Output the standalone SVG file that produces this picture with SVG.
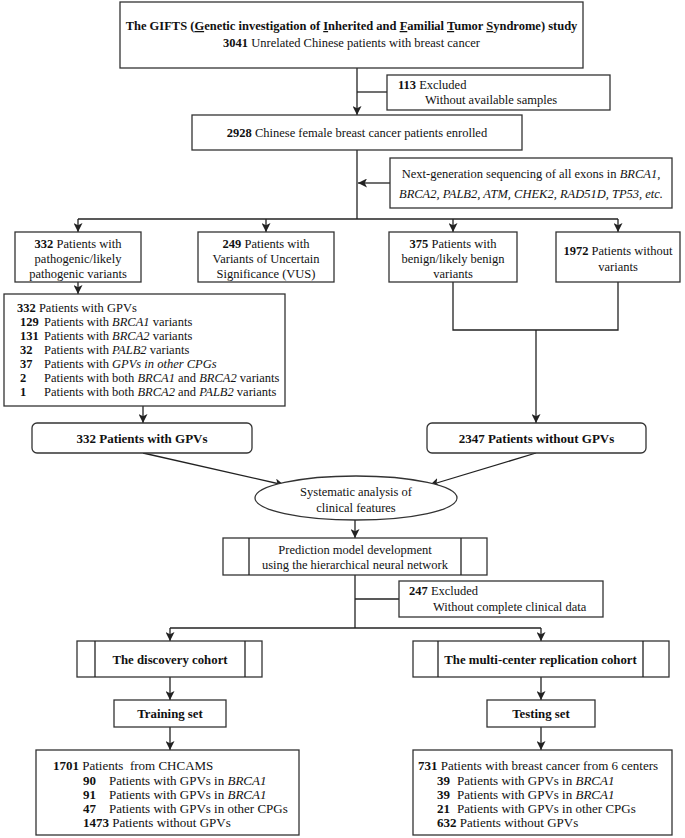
<svg xmlns="http://www.w3.org/2000/svg" width="685" height="838" viewBox="0 0 685 838">
<defs>
<style>
.box{fill:#fff;stroke:#333;stroke-width:1.3}
.ln{fill:none;stroke:#222;stroke-width:1.3}
.arr{fill:none;stroke:#222;stroke-width:1.3;marker-end:url(#ah)}
text{font-family:"Liberation Serif","Times New Roman",serif;font-size:12.5px;fill:#111}
.c{text-anchor:middle}
.b{font-weight:bold}
.i{font-style:italic}
.u{text-decoration:underline}
.big{font-size:13px;font-weight:bold}
.coh{font-size:12.8px;font-weight:bold}
.lst{font-size:13px}
</style>
<marker id="ah" viewBox="0 0 10 10" refX="10" refY="5" markerWidth="9" markerHeight="9" markerUnits="userSpaceOnUse" orient="auto">
<path d="M0,0 L10,5 L0,10 L2.5,5 z" fill="#222"/>
</marker>
</defs>
<rect width="685" height="838" fill="#fff"/>

<g id="connectors">
<line class="arr" x1="357" y1="68" x2="357" y2="115"/>
<line class="ln" x1="357" y1="92" x2="387" y2="92"/>
<line class="ln" x1="357" y1="150" x2="357" y2="219"/>
<line class="arr" x1="390" y1="183" x2="358" y2="183"/>
<line class="ln" x1="78" y1="219" x2="618" y2="219"/>
<line class="arr" x1="78" y1="219" x2="78" y2="232"/>
<line class="arr" x1="266" y1="219" x2="266" y2="232"/>
<line class="arr" x1="453" y1="219" x2="453" y2="232"/>
<line class="arr" x1="618" y1="219" x2="618" y2="232"/>
<line class="arr" x1="78" y1="282" x2="78" y2="294"/>
<polyline class="ln" points="453,282 453,330 618,330 618,282"/>
<line class="arr" x1="536" y1="330" x2="536" y2="423"/>
<line class="arr" x1="143" y1="406" x2="143" y2="423"/>
<line class="arr" x1="143" y1="453" x2="284" y2="485"/>
<line class="arr" x1="536" y1="453" x2="430" y2="485"/>
<line class="arr" x1="355" y1="520" x2="355" y2="538"/>
<line class="ln" x1="355" y1="575" x2="355" y2="628"/>
<line class="ln" x1="355" y1="599" x2="399" y2="599"/>
<line class="ln" x1="170" y1="628" x2="541" y2="628"/>
<line class="arr" x1="170" y1="628" x2="170" y2="641"/>
<line class="arr" x1="541" y1="628" x2="541" y2="641"/>
<line class="arr" x1="170" y1="677" x2="170" y2="700"/>
<line class="arr" x1="541" y1="677" x2="541" y2="700"/>
<line class="arr" x1="170" y1="727" x2="170" y2="750"/>
<line class="arr" x1="541" y1="727" x2="541" y2="750"/>
</g>

<g id="n-gifts">
<rect class="box" x="120" y="2" width="463" height="66"/>
<text class="c b" x="351.5" y="30">The GIFTS (<tspan class="u">G</tspan>enetic investigation of <tspan class="u">I</tspan>nherited and <tspan class="u">F</tspan>amilial <tspan class="u">T</tspan>umor <tspan class="u">S</tspan>yndrome) study</text>
<text class="c" x="351.5" y="47"><tspan class="b">3041</tspan> Unrelated Chinese patients with breast cancer</text>
</g>

<g id="n-excl113">
<rect class="box" x="387" y="75" width="223" height="35"/>
<text x="398" y="89"><tspan class="b">113</tspan> Excluded</text>
<text x="425" y="104">Without available samples</text>
</g>

<g id="n-2928">
<rect class="box" x="192" y="115" width="330" height="35"/>
<text class="c" x="357" y="137"><tspan class="b">2928</tspan> Chinese female breast cancer patients enrolled</text>
</g>

<g id="n-ngs">
<rect class="box" x="390" y="158" width="282" height="50"/>
<text class="c" x="531" y="178">Next-generation sequencing of all exons in <tspan class="i">BRCA1,</tspan></text>
<text class="c i" x="531" y="198">BRCA2, PALB2, ATM, CHEK2, RAD51D, TP53, etc.</text>
</g>

<g id="n-plp">
<rect class="box" x="15" y="232" width="126" height="50"/>
<text class="c" x="78" y="248"><tspan class="b">332</tspan> Patients with</text>
<text class="c" x="78" y="263">pathogenic/likely</text>
<text class="c" x="78" y="278">pathogenic variants</text>
</g>

<g id="n-vus">
<rect class="box" x="198" y="232" width="136" height="50"/>
<text class="c" x="266" y="248"><tspan class="b">249</tspan> Patients with</text>
<text class="c" x="266" y="263">Variants of Uncertain</text>
<text class="c" x="266" y="278">Significance (VUS)</text>
</g>

<g id="n-benign">
<rect class="box" x="389" y="232" width="128" height="50"/>
<text class="c" x="453" y="248"><tspan class="b">375</tspan> Patients with</text>
<text class="c" x="453" y="263">benign/likely benign</text>
<text class="c" x="453" y="278">variants</text>
</g>

<g id="n-novar">
<rect class="box" x="556" y="232" width="124" height="50"/>
<text class="c" x="618" y="255"><tspan class="b">1972</tspan> Patients without</text>
<text class="c" x="618" y="271">variants</text>
</g>

<g id="n-gpvlist">
<rect class="box" x="4" y="294" width="281" height="112"/>
<text x="17" y="312"><tspan class="b">332</tspan> Patients with GPVs</text>
<text y="326"><tspan class="b" x="20">129</tspan><tspan x="44">Patients with </tspan><tspan class="i">BRCA1</tspan> variants</text>
<text y="340"><tspan class="b" x="20">131</tspan><tspan x="44">Patients with </tspan><tspan class="i">BRCA2</tspan> variants</text>
<text y="354"><tspan class="b" x="20">32</tspan><tspan x="44">Patients with </tspan><tspan class="i">PALB2</tspan> variants</text>
<text y="368"><tspan class="b" x="20">37</tspan><tspan x="44">Patients with </tspan><tspan class="i">GPVs in other CPGs</tspan></text>
<text y="382"><tspan class="b" x="20">2</tspan><tspan x="44">Patients with both </tspan><tspan class="i">BRCA1</tspan> and <tspan class="i">BRCA2</tspan> variants</text>
<text y="396"><tspan class="b" x="20">1</tspan><tspan x="44">Patients with both </tspan><tspan class="i">BRCA2</tspan> and <tspan class="i">PALB2</tspan> variants</text>
</g>

<g id="n-gpv">
<rect class="box" x="32" y="423" width="220" height="30" rx="5"/>
<text class="c big" x="142" y="443">332 Patients with GPVs</text>
</g>

<g id="n-nogpv">
<rect class="box" x="427" y="423" width="219" height="30" rx="5"/>
<text class="c big" x="536.5" y="443">2347 Patients without GPVs</text>
</g>

<g id="n-analysis">
<ellipse class="box" cx="356" cy="498" rx="101" ry="22"/>
<text class="c" x="356" y="496">Systematic analysis of</text>
<text class="c" x="356" y="512">clinical features</text>
</g>

<g id="n-model">
<rect class="box" x="223" y="538" width="264" height="37"/>
<line class="ln" x1="249" y1="538" x2="249" y2="575"/>
<line class="ln" x1="461" y1="538" x2="461" y2="575"/>
<text class="c" x="355" y="554">Prediction model development</text>
<text class="c" x="355" y="569">using the hierarchical neural network</text>
</g>

<g id="n-excl247">
<rect class="box" x="399" y="581" width="204" height="36"/>
<text x="409" y="595"><tspan class="b">247</tspan> Excluded</text>
<text x="433" y="611">Without complete clinical data</text>
</g>

<g id="n-discovery">
<rect class="box" x="77" y="641" width="185" height="36"/>
<line class="ln" x1="95" y1="641" x2="95" y2="677"/>
<line class="ln" x1="245" y1="641" x2="245" y2="677"/>
<text class="c coh" x="170" y="664">The discovery cohort</text>
</g>

<g id="n-replication">
<rect class="box" x="413" y="641" width="256" height="36"/>
<line class="ln" x1="438" y1="641" x2="438" y2="677"/>
<line class="ln" x1="643" y1="641" x2="643" y2="677"/>
<text class="c coh" x="540.5" y="664">The multi-center replication cohort</text>
</g>

<g id="n-training">
<rect class="box" x="114" y="700" width="112" height="27"/>
<text class="c coh" x="170" y="718">Training set</text>
</g>

<g id="n-testing">
<rect class="box" x="487" y="700" width="108" height="27"/>
<text class="c coh" x="541" y="718">Testing set</text>
</g>

<g id="n-trainlist">
<rect class="box" x="36" y="750" width="263" height="85"/>
<text class="lst" x="53" y="770"><tspan class="b">1701</tspan> Patients&#160; from CHCAMS</text>
<text class="lst" y="785"><tspan class="b" x="83">90</tspan><tspan x="109">Patients with GPVs in </tspan><tspan class="i">BRCA1</tspan></text>
<text class="lst" y="799"><tspan class="b" x="83">91</tspan><tspan x="109">Patients with GPVs in </tspan><tspan class="i">BRCA1</tspan></text>
<text class="lst" y="813"><tspan class="b" x="83">47</tspan><tspan x="109">Patients with GPVs in other CPGs</tspan></text>
<text class="lst" x="83" y="827"><tspan class="b">1473</tspan> Patients without GPVs</text>
</g>

<g id="n-testlist">
<rect class="box" x="413" y="750" width="259" height="85"/>
<text class="lst" x="418" y="770"><tspan class="b">731</tspan> Patients with breast cancer from 6 centers</text>
<text class="lst" y="785"><tspan class="b" x="437">39</tspan><tspan x="457">Patients with GPVs in </tspan><tspan class="i">BRCA1</tspan></text>
<text class="lst" y="799"><tspan class="b" x="437">39</tspan><tspan x="457">Patients with GPVs in </tspan><tspan class="i">BRCA1</tspan></text>
<text class="lst" y="813"><tspan class="b" x="437">21</tspan><tspan x="457">Patients with GPVs in other CPGs</tspan></text>
<text class="lst" x="437" y="827"><tspan class="b">632</tspan> Patients without GPVs</text>
</g>
</svg>
